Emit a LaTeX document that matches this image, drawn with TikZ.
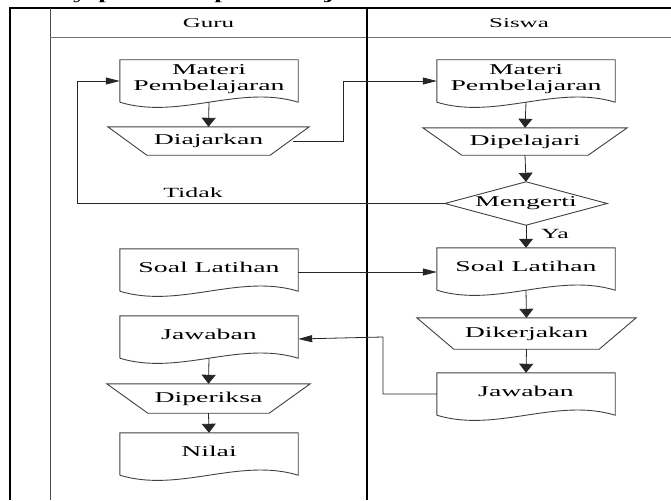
\documentclass[tikz,border=0pt]{standalone}
\usepackage{fontspec}
\setmainfont{Liberation Serif}[FakeStretch=1.85]
\usetikzlibrary{arrows.meta}
% struts that push single-line text slightly above the box centre
\newcommand\topstr{\rule{0pt}{11pt}}
\newcommand\botstr{\rule[-7pt]{0pt}{7pt}}
\newcommand\dstr{\topstr\botstr}
\begin{document}
\begin{tikzpicture}[x=1pt,y=-1pt,
  outline/.style={draw=black!75, line width=0.9pt, line join=miter},
  docbox/.style={rectangle, minimum width=178pt, minimum height=42pt, inner sep=0pt,
    align=center, font=\fontsize{15}{16}\selectfont},
  trapbox/.style 2 args={rectangle, minimum width=#1, minimum height=#2, inner sep=0pt,
    font=\fontsize{15}{18}\selectfont},
  decbox/.style={rectangle, minimum width=162pt, minimum height=43pt, inner sep=0pt,
    font=\fontsize{15}{18}\selectfont},
  conn/.style={draw=black!85, line width=0.8pt},
  vtip/.style={-{Triangle[length=9pt,width=14pt]}},
  htip/.style={-{Triangle[length=14pt,width=7pt]}},
  lane/.style={draw=black, line width=1.5pt},
  sublane/.style={draw=black!70, line width=1pt},
  hdr/.style={font=\fontsize{13.5}{16}\selectfont, inner sep=0pt},
  lbltext/.style={font=\fontsize{14}{16}\selectfont, inner sep=0pt},
  captext/.style={font=\bfseries\fontsize{15}{18}\selectfont, inner sep=0pt, anchor=base}
]
\path[use as bounding box] (0,0) rectangle (671,500);
\clip (0,0) rectangle (671,500);

% caption line above the chart (only its descenders fall inside the page)
\node[captext] (cap1) at (80,0) {y};
\node[captext] (cap2) at (106,0) {p};
\node[captext] (cap3) at (222,0) {p};
\node[captext] (cap4) at (329,0) {j};

% swimlane frame
\draw[lane] (10,500) -- (10,8) -- (671,8);
\draw[sublane] (50,8) -- (50,500);
\draw[draw=black!55, line width=0.9pt] (50,37) -- (671,37);
\draw[lane] (367,8) -- (367,500);

\node[hdr] (hGuru) at (208.5,23) {Guru};
\node[hdr] (hSiswa) at (519,23) {Siswa};

% nodes
\node[docbox] (gMat) at (209,81) {\topstr Materi\\\botstr Pembelajaran};
\node[docbox] (sMat) at (526,81) {\topstr Materi\\\botstr Pembelajaran};
\node[trapbox={201pt}{28pt}] (gAjar) at (208.5,141) {Diajarkan};
\node[trapbox={204pt}{27pt}] (sPel) at (525,141.5) {Dipelajari};
\node[decbox] (dMen) at (526,203.5) {Mengerti};
\node[docbox] (gSoal) at (209,270) {\dstr Soal Latihan};
\node[docbox] (sSoal) at (526,269) {\dstr Soal Latihan};
\node[trapbox={219pt}{31pt}] (sKer) at (526.5,333.5) {Dikerjakan};
\node[docbox] (gJaw) at (209,337) {\dstr Jawaban};
\node[docbox] (sJaw) at (526,394) {\dstr Jawaban};
\node[trapbox={203pt}{29pt}] (gPer) at (208.5,398.5) {Diperiksa};
\node[docbox] (gNil) at (209,454) {\dstr Nilai};

% document outlines with wavy bottom
\foreach \n in {gMat,sMat,gSoal,sSoal,gJaw,sJaw,gNil}{
  \draw[outline] (\n.south west) -- (\n.north west) -- (\n.north east) -- (\n.south east)
    .. controls ([xshift=-59pt,yshift=18pt]\n.south east) and ([xshift=59pt,yshift=-18pt]\n.south west)
    .. (\n.south west);
}
% manual-operation outlines
\foreach \n/\d in {gAjar/39,sPel/39,sKer/37,gPer/41}{
  \draw[outline] (\n.north west) -- (\n.north east) -- ([xshift=-\d pt]\n.south east)
    -- ([xshift=\d pt]\n.south west) -- cycle;
}
% decision outline
\draw[outline] (dMen.north) -- (dMen.east) -- (dMen.south) -- (dMen.west) -- cycle;

% turning points
\coordinate (tA) at (343,0);
\coordinate (tB) at (77,0);
\coordinate (tC) at (383,0);

% connectors
\draw[conn,vtip] (gMat.south) -- (gAjar.north);
\draw[conn,htip] ([xshift=-16pt]gAjar.east) -| (tA |- sMat.west) -- (sMat.west);
\draw[conn,vtip] (sMat.south) -- (sPel.north);
\draw[conn,vtip] (sPel.south) -- (dMen.north);
\draw[conn,htip] (dMen.west) -| (tB |- gMat.west) -- (gMat.west);
\node[lbltext] (lTidak) at (193,193) {Tidak};
\draw[conn,vtip] (dMen.south) -- (sSoal.north);
\node[lbltext] (lYa) at (555,234) {Ya};
\draw[conn,htip] ([yshift=-2pt]gSoal.east) -- ([yshift=-2pt]gSoal.east -| sSoal.west);
\draw[conn,vtip] (sSoal.south) -- (sKer.north);
\draw[conn,vtip] (sKer.south) -- (sJaw.north);
\draw[conn,htip] (sJaw.west) -| (tC |- gJaw.east) -- ([yshift=-2pt]gJaw.east);
\draw[conn,vtip] (gJaw.south) -- (gPer.north);
\draw[conn,vtip] (gPer.south) -- (gNil.north);
\end{tikzpicture}
\end{document}
